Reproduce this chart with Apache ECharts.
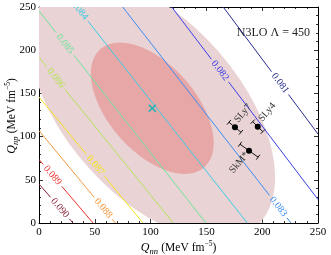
<!DOCTYPE html>
<html><head><meta charset="utf-8">
<script src="https://cdn.jsdelivr.net/npm/echarts@6/dist/echarts.min.js"></script>
<style>html,body{margin:0;padding:0;background:#fff}#c{width:331px;height:255px}</style>
</head><body><div id="c"></div>
<script>
// ---- data ----
const xTicks = [0, 50, 100, 150, 200, 250];
const yTicks = [0, 50, 100, 150, 200, 250];

const contourLevels = ['0.090','0.089','0.088','0.087','0.086','0.085','0.084','0.083','0.082','0.081'];
const contourStart = [[0,45.1],[0,73.5],[0,106.9],[0,145.8],[0,191.8],[0,245.4],[33.9,250],[75,250],[118.9,250],[165.1,250]];
const contourEnd   = [[30.5,0],[48.4,0],[68.5,0],[93.2,0],[120.3,0],[149.6,0],[186.6,0],[225.8,0],[250,27.2],[250,103]];
const contourLabelX = [18.8, 12.1, 57.6, 50.5, 15.1, 23.3, 36, 214.4, 162.2, 216];

const ellipseCenter = [101.5, 132.8];
const ellipseHalfX = 55;
const ellipseHalfY = 76;
const ellipseCorr = -0.527;
const ellipseScales = [2, 1];

const pointNames = ['SLy7', 'SLy4', 'SkM*'];
const pointX = [175.6, 196.0, 188.2];
const pointY = [110.8, 111.5, 83.7];
const pointErrX = [5.4, 4.5, 8.1];
const pointErrY = [5.8, 5.8, 7.5];

// ---- styling ----
const contourColors = ['#8c1f35','#e8302c','#f7983f','#f3e21e','#b4e35a','#6fe39c','#3dcbe3','#3b8cf2','#3a3de6','#272c8c'];
const ellipseColors = ['#e9d3d5', '#e8a7a7'];
const SERIF = '"Liberation Serif", "DejaVu Serif", serif';
const labelFont = '10px ' + SERIF;

const measureCtx = document.createElement('canvas').getContext('2d');
function textW(t, font) { measureCtx.font = font; return measureCtx.measureText(t).width; }

const chart = echarts.init(document.getElementById('c'), null, {renderer: 'canvas'});

const axisCommon = {
  type: 'value', min: 0, max: 250, interval: 50,
  axisLine: {show: true, onZero: false, lineStyle: {color: '#000', width: 1}},
  axisTick: {show: true, inside: true, length: 4, lineStyle: {color: '#000', width: 0.8}},
  minorTick: {show: true, splitNumber: 5, length: 2, lineStyle: {color: '#000', width: 0.8}},
  splitLine: {show: false},
  minorSplitLine: {show: false}
};
const richName = {
  it: {fontStyle: 'italic', fontSize: 12, fontFamily: SERIF, color: '#000', lineHeight: 16},
  sub: {fontStyle: 'italic', fontSize: 8.5, fontFamily: SERIF, color: '#000', verticalAlign: 'bottom', lineHeight: 9},
  n: {fontSize: 11.5, fontFamily: SERIF, color: '#000', lineHeight: 16},
  sup: {fontSize: 7.5, fontFamily: SERIF, color: '#000', verticalAlign: 'top', lineHeight: 8}
};

const option = {
  animation: false,
  backgroundColor: '#fff',
  grid: {left: 39, right: 13, top: 7, bottom: 32, containLabel: false, outerBoundsMode: 'none'},
  xAxis: [
    Object.assign({}, axisCommon, {
      position: 'bottom',
      axisLabel: {show: true, color: '#000', fontFamily: SERIF, fontSize: 11, margin: 4,
        formatter: v => xTicks.includes(v) ? String(v) : ''},
      name: '{it|Q}{sub|nn} {n|(MeV fm}{sup|−5}{n|)}',
      nameLocation: 'middle', nameGap: 17, nameMoveOverlap: false,
      nameTextStyle: {rich: richName}
    }),
    Object.assign({}, axisCommon, {position: 'top', axisLabel: {show: false}})
  ],
  yAxis: [
    Object.assign({}, axisCommon, {
      position: 'left',
      axisLabel: {show: true, color: '#000', fontFamily: SERIF, fontSize: 11, margin: 3,
        formatter: v => yTicks.includes(v) ? String(v) : ''}
    }),
    Object.assign({}, axisCommon, {position: 'right', axisLabel: {show: false}})
  ],
  graphic: [
    {
      type: 'text', right: 21, top: 27,
      style: {text: 'N3LO Λ = 450', font: '12px ' + SERIF, fill: '#222'}
    },
    {
      type: 'text', x: 12, y: 116, rotation: Math.PI / 2,
      style: {text: '{it|Q}{sub|np} {n|(MeV fm}{sup|−5}{n|)}', rich: richName,
        align: 'center', verticalAlign: 'middle'}
    }
  ],
  series: [
    {
      type: 'custom', name: 'ellipses', clip: true, z: 1,
      xAxisIndex: 0, yAxisIndex: 0,
      data: ellipseScales.map((k, i) => [ellipseCenter[0], ellipseCenter[1], k]),
      encode: {x: 0, y: 1},
      renderItem: function (params, api) {
        const k = ellipseScales[params.dataIndex];
        const pts = [];
        const s = Math.sqrt(1 - ellipseCorr * ellipseCorr);
        for (let j = 0; j < 180; j++) {
          const t = j / 180 * Math.PI * 2;
          const x = ellipseCenter[0] + k * ellipseHalfX * Math.cos(t);
          const y = ellipseCenter[1] + k * ellipseHalfY * (ellipseCorr * Math.cos(t) + s * Math.sin(t));
          pts.push(api.coord([x, y]));
        }
        return {type: 'polygon', shape: {points: pts}, style: {fill: ellipseColors[params.dataIndex], stroke: null}};
      }
    },
    {
      type: 'custom', name: 'center', clip: true, z: 3,
      data: [ellipseCenter],
      encode: {x: 0, y: 1},
      renderItem: function (params, api) {
        const p = api.coord(ellipseCenter);
        const r = 3.5;
        const st = {stroke: '#1fb3b8', lineWidth: 1.6};
        return {type: 'group', children: [
          {type: 'line', shape: {x1: p[0]-r, y1: p[1]-r, x2: p[0]+r, y2: p[1]+r}, style: st},
          {type: 'line', shape: {x1: p[0]-r, y1: p[1]+r, x2: p[0]+r, y2: p[1]-r}, style: st}
        ]};
      }
    },
    {
      type: 'custom', name: 'contours', clip: true, z: 2,
      data: contourLevels.map((l, i) => [contourStart[i][0], contourStart[i][1], contourEnd[i][0], contourEnd[i][1]]),
      encode: {x: [0, 2], y: [1, 3]},
      renderItem: function (params, api) {
        const i = params.dataIndex;
        const a = contourStart[i], b = contourEnd[i];
        const p0 = api.coord(a), p1 = api.coord(b);
        const lx = contourLabelX[i];
        const t = (lx - a[0]) / (b[0] - a[0]);
        const ly = a[1] + t * (b[1] - a[1]);
        const pc = api.coord([lx, ly]);
        const dx = p1[0] - p0[0], dy = p1[1] - p0[1];
        const len = Math.hypot(dx, dy), ux = dx / len, uy = dy / len;
        const half = textW(contourLevels[i], labelFont) / 2 + 3;
        const col = contourColors[i];
        const st = {stroke: col, lineWidth: 1};
        return {type: 'group', children: [
          {type: 'line', shape: {x1: p0[0], y1: p0[1], x2: pc[0] - ux * half, y2: pc[1] - uy * half}, style: st},
          {type: 'line', shape: {x1: pc[0] + ux * half, y1: pc[1] + uy * half, x2: p1[0], y2: p1[1]}, style: st},
          {type: 'text', x: pc[0], y: pc[1], rotation: -Math.atan2(dy, dx),
            style: {text: contourLevels[i], font: labelFont, fill: col, align: 'center', verticalAlign: 'middle'}}
        ]};
      }
    },
    {
      type: 'custom', name: 'forces', clip: false, z: 4,
      data: pointNames.map((n, i) => [pointX[i], pointY[i]]),
      encode: {x: 0, y: 1},
      renderItem: function (params, api) {
        const i = params.dataIndex;
        const c = api.coord([pointX[i], pointY[i]]);
        const e1 = api.coord([pointX[i] - pointErrX[i], pointY[i] + pointErrY[i]]);
        const e2 = api.coord([pointX[i] + pointErrX[i], pointY[i] - pointErrY[i]]);
        const dx = e2[0] - e1[0], dy = e2[1] - e1[1];
        const len = Math.hypot(dx, dy), nx = -dy / len * 3, ny = dx / len * 3;
        const st = {stroke: '#111', lineWidth: 1};
        const offs = [[8, -14], [9.5, -14.5], [-10, 12]];
        return {type: 'group', children: [
          {type: 'line', shape: {x1: e1[0], y1: e1[1], x2: e2[0], y2: e2[1]}, style: st},
          {type: 'line', shape: {x1: e1[0] - nx, y1: e1[1] - ny, x2: e1[0] + nx, y2: e1[1] + ny}, style: st},
          {type: 'line', shape: {x1: e2[0] - nx, y1: e2[1] - ny, x2: e2[0] + nx, y2: e2[1] + ny}, style: st},
          {type: 'circle', shape: {cx: c[0], cy: c[1], r: 3}, style: {fill: '#000'}},
          {type: 'text', x: c[0] + offs[i][0], y: c[1] + offs[i][1], rotation: 50 * Math.PI / 180,
            style: {text: pointNames[i], font: '10px ' + SERIF, fill: '#333', align: 'center', verticalAlign: 'middle'}}
        ]};
      }
    }
  ]
};
chart.setOption(option);
</script>
</body></html>
